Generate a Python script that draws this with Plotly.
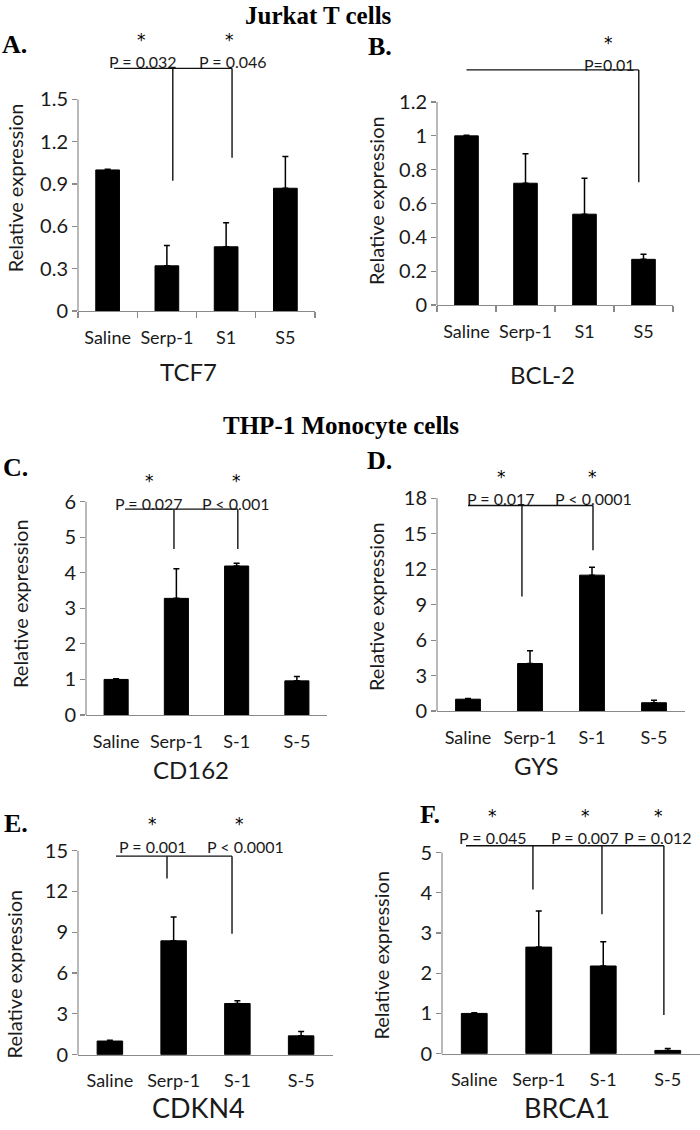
import plotly.graph_objects as go

W, H = 700, 1130

# ---------------- data ----------------
top_categories = ["Saline", "Serp-1", "S1", "S5"]
thp_categories = ["Saline", "Serp-1", "S-1", "S-5"]

tcf7_mean = [1.0, 0.32, 0.455, 0.87]
tcf7_err = [0.005, 0.145, 0.17, 0.225]

bcl2_mean = [1.0, 0.72, 0.537, 0.27]
bcl2_err = [0.003, 0.175, 0.213, 0.03]

cd162_mean = [1.0, 3.28, 4.19, 0.96]
cd162_err = [0.02, 0.83, 0.08, 0.12]

gys_mean = [1.0, 4.02, 11.5, 0.7]
gys_err = [0.05, 1.08, 0.66, 0.2]

cdkn4_mean = [1.0, 8.37, 3.76, 1.38]
cdkn4_err = [0.05, 1.75, 0.2, 0.33]

brca1_mean = [1.0, 2.65, 2.18, 0.08]
brca1_err = [0.02, 0.9, 0.6, 0.05]

tcf7_ticks = [0, 0.3, 0.6, 0.9, 1.2, 1.5]
bcl2_ticks = [0, 0.2, 0.4, 0.6, 0.8, 1.0, 1.2]
cd162_ticks = [0, 1, 2, 3, 4, 5, 6]
gys_ticks = [0, 3, 6, 9, 12, 15, 18]
cdkn4_ticks = [0, 3, 6, 9, 12, 15]
brca1_ticks = [0, 1, 2, 3, 4, 5]

tcf7_pvalues = ["P = 0.032", "P = 0.046"]
bcl2_pvalues = ["P=0.01"]
cd162_pvalues = ["P = 0.027", "P < 0.001"]
gys_pvalues = ["P = 0.017", "P < 0.0001"]
cdkn4_pvalues = ["P = 0.001", "P < 0.0001"]
brca1_pvalues = ["P = 0.045", "P = 0.007", "P = 0.012"]

# ---------------- layout geometry (pixels) ----------------
panels = [
    dict(letter="A.", cats=top_categories, mean=tcf7_mean, err=tcf7_err, gene="TCF7", gsize=24,
         ticks=tcf7_ticks, pv=tcf7_pvalues, left=78, right=315, y0=314, top=25, ppu=142.4,
         minor=True, letter_xy=(14, 45), gene_xy=(188, 375), ytitle_xy=(15, 190),
         br_y=1.72, br_x=(0.11, 2.1), drops=[(1.1, 0.923), (2.1, 1.087)],
         pv_x=[0.592, 2.116], pv_y=1.77, star_x=[0.574, 2.065], star_y=1.92),
    dict(letter="B.", cats=top_categories, mean=bcl2_mean, err=bcl2_err, gene="BCL-2", gsize=24,
         ticks=bcl2_ticks, pv=bcl2_pvalues, left=437, right=673, y0=308, top=25, ppu=170.8,
         minor=True, letter_xy=(380, 47), gene_xy=(542, 378), ytitle_xy=(376, 203),
         br_y=1.39, br_x=(0.0, 2.92), drops=[(2.92, 0.726)],
         pv_x=[2.42], pv_y=1.42, star_x=[2.4], star_y=1.55),
    dict(letter="C.", cats=thp_categories, mean=cd162_mean, err=cd162_err, gene="CD162", gsize=24,
         ticks=cd162_ticks, pv=cd162_pvalues, left=86, right=327, y0=722, top=465, ppu=35.9,
         minor=False, letter_xy=(15, 472), gene_xy=(191, 777), ytitle_xy=(20, 610),
         br_y=5.79, br_x=(0.147, 2.02), drops=[(0.96, 4.67), (2.02, 4.67)],
         pv_x=[0.546, 1.99], pv_y=5.95, star_x=[0.546, 1.99], star_y=6.58),
    dict(letter="D.", cats=thp_categories, mean=gys_mean, err=gys_err, gene="GYS", gsize=24,
         ticks=gys_ticks, pv=gys_pvalues, left=437, right=685, y0=718, top=465, ppu=11.93,
         minor=False, letter_xy=(380, 465), gene_xy=(536, 773), ytitle_xy=(376, 613),
         br_y=17.4, br_x=(0.0, 2.016), drops=[(0.87, 9.7), (2.016, 13.6)],
         pv_x=[0.532, 2.03], pv_y=18.0, star_x=[0.548, 2.016], star_y=19.85),
    dict(letter="E.", cats=thp_categories, mean=cdkn4_mean, err=cdkn4_err, gene="CDKN4", gsize=27,
         ticks=cdkn4_ticks, pv=cdkn4_pvalues, left=78, right=333, y0=1065, top=812, ppu=13.73,
         minor=False, letter_xy=(16, 832), gene_xy=(198, 1118), ytitle_xy=(14, 984),
         br_y=14.6, br_x=(0.096, 1.916), drops=[(0.896, 12.95), (1.916, 8.9)],
         pv_x=[0.676, 2.135], pv_y=15.3, star_x=[0.676, 2.04], star_y=16.95),
    dict(letter="F.", cats=thp_categories, mean=brca1_mean, err=brca1_err, gene="BRCA1", gsize=27,
         ticks=brca1_ticks, pv=brca1_pvalues, left=442, right=700, y0=1064, top=805, ppu=40.6,
         minor=False, letter_xy=(430, 823), gene_xy=(567, 1118), ytitle_xy=(381, 965),
         br_y=5.17, br_x=(-0.128, 2.94), drops=[(0.91, 4.08), (1.98, 3.47), (2.94, 0.96)],
         pv_x=[0.29, 1.717, 2.85], pv_y=5.37, star_x=[0.29, 1.73, 2.85], star_y=5.9),
]

SANS = "Lato"
SERIF = "Liberation Serif"
AXIS_GRAY = "#8a8a8a"
TXT = "#1a1a1a"


def px_x(x):
    return x / W


def px_y(y):
    return 1 - y / H


def fmt(v):
    return ("%g" % v)


fig = go.Figure()
annotations = []
shapes = []

for i, p in enumerate(panels):
    n = i + 1
    xa = "xaxis" if n == 1 else "xaxis%d" % n
    ya = "yaxis" if n == 1 else "yaxis%d" % n
    xr = "x" if n == 1 else "x%d" % n
    yr = "y" if n == 1 else "y%d" % n
    xs = list(range(len(p["cats"])))
    ytop = (p["y0"] - p["top"]) / p["ppu"]

    fig.add_trace(go.Bar(
        x=xs, y=p["mean"], width=0.4, xaxis=xr, yaxis=yr,
        marker=dict(color="black", line=dict(color="black", width=1)),
        error_y=dict(type="data", array=p["err"], arrayminus=[0] * len(xs), symmetric=False,
                     color="black", thickness=1.5, width=3),
        showlegend=False, hoverinfo="skip"))

    # significance bracket
    bx = [p["br_x"][0], p["br_x"][1]]
    by = [p["br_y"], p["br_y"]]
    fig.add_trace(go.Scatter(x=bx, y=by, mode="lines", xaxis=xr, yaxis=yr,
                             line=dict(color="#111", width=1.4), showlegend=False, hoverinfo="skip"))
    for dx, dy in p["drops"]:
        fig.add_trace(go.Scatter(x=[dx, dx], y=[p["br_y"], dy], mode="lines", xaxis=xr, yaxis=yr,
                                 line=dict(color="#111", width=1.4), showlegend=False, hoverinfo="skip"))

    for txt, tx in zip(p["pv"], p["pv_x"]):
        annotations.append(dict(x=tx, y=p["pv_y"], xref=xr, yref=yr, text=txt, showarrow=False,
                                font=dict(family=SANS, size=16, color=TXT), xanchor="center", yanchor="middle"))
    for sx in p["star_x"]:
        annotations.append(dict(x=sx, y=p["star_y"], xref=xr, yref=yr, text="*", showarrow=False,
                                font=dict(family="DejaVu Sans", size=17, color="black"),
                                xanchor="center", yanchor="middle"))

    xaxis = dict(domain=[px_x(p["left"]), px_x(p["right"])], range=[-0.5, 3.5], anchor=yr,
                 tickvals=xs, ticktext=p["cats"], ticks="", showline=True, linecolor=AXIS_GRAY,
                 linewidth=1.2, showgrid=False, zeroline=False, ticklabelstandoff=10,
                 tickfont=dict(family=SANS, size=18, color=TXT), fixedrange=True)
    if p["minor"]:
        xaxis["minor"] = dict(tickvals=[-0.5, 0.5, 1.5, 2.5, 3.5], ticks="outside", ticklen=6,
                              tickcolor=AXIS_GRAY, tickwidth=1.2, showgrid=False)
    yaxis = dict(domain=[px_y(p["y0"]), px_y(p["top"])], range=[0, ytop], anchor=xr,
                 tickvals=p["ticks"], ticktext=[fmt(t) for t in p["ticks"]], ticks="outside",
                 ticklen=5, tickcolor=AXIS_GRAY, tickwidth=1.2, showline=False, showgrid=False,
                 zeroline=False, tickfont=dict(family=SANS, size=20, color=TXT), fixedrange=True)
    fig.update_layout(**{xa: xaxis, ya: yaxis})

    # y axis line only up to the top tick
    shapes.append(dict(type="line", xref=xr + " domain", yref=yr + " domain", x0=0, x1=0,
                       y0=0, y1=max(p["ticks"]) / ytop, line=dict(color=AXIS_GRAY, width=1.2)))

    annotations.append(dict(x=px_x(p["letter_xy"][0]), y=px_y(p["letter_xy"][1]), xref="paper", yref="paper",
                            text="<b>%s</b>" % p["letter"], showarrow=False,
                            font=dict(family=SERIF, size=26, color="black"), xanchor="center", yanchor="middle"))
    annotations.append(dict(x=px_x(p["gene_xy"][0]), y=px_y(p["gene_xy"][1]), xref="paper", yref="paper",
                            text=p["gene"], showarrow=False,
                            font=dict(family=SANS, size=p["gsize"], color=TXT), xanchor="center", yanchor="middle"))
    annotations.append(dict(x=px_x(p["ytitle_xy"][0]), y=px_y(p["ytitle_xy"][1]), xref="paper", yref="paper",
                            text="Relative expression", showarrow=False, textangle=-90,
                            font=dict(family=SANS, size=20, color=TXT), xanchor="center", yanchor="middle"))

annotations.append(dict(x=px_x(318), y=px_y(16), xref="paper", yref="paper", text="<b>Jurkat T cells</b>",
                        showarrow=False, font=dict(family=SERIF, size=25, color="black"),
                        xanchor="center", yanchor="middle"))
annotations.append(dict(x=px_x(341), y=px_y(430), xref="paper", yref="paper", text="<b>THP-1 Monocyte cells</b>",
                        showarrow=False, font=dict(family=SERIF, size=25, color="black"),
                        xanchor="center", yanchor="middle"))

fig.update_layout(width=W, height=H, autosize=False, margin=dict(l=0, r=0, t=0, b=0),
                  paper_bgcolor="white", plot_bgcolor="white", showlegend=False,
                  annotations=annotations, shapes=shapes, bargap=0)

fig.write_html("out.html", config={"displayModeBar": False, "staticPlot": True},
               post_script="document.body.style.margin='0px';document.body.style.overflow='hidden';")
